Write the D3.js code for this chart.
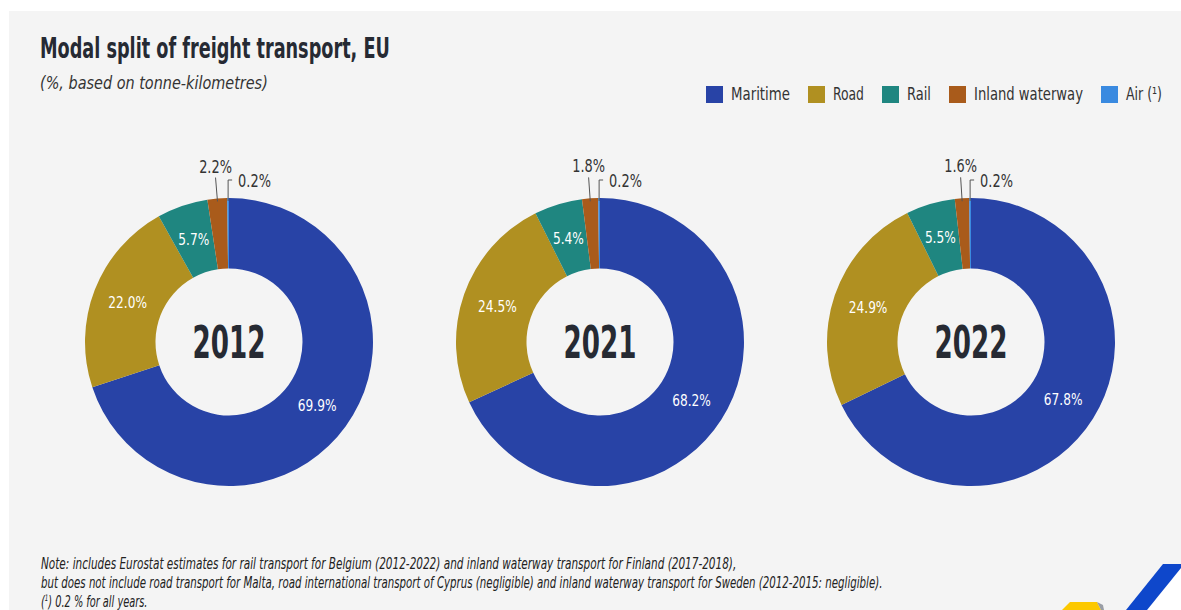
<!DOCTYPE html>
<html lang="en">
<head>
<meta charset="UTF-8">
<title>Modal split of freight transport, EU</title>
<script src="https://d3js.org/d3.v7.min.js"></script>
<style>
  body { margin: 0; background: #ffffff; }
  svg { display: block; }
  text { font-family: "Liberation Sans Narrow", "DejaVu Sans Condensed", "Roboto", sans-serif; }
</style>
</head>
<body>
<div id="chart"></div>
<script>
// data
const years = ["2012", "2021", "2022"];
const modes = ["Maritime", "Road", "Rail", "Inland waterway", "Air"];
const legendLabels = ["Maritime", "Road", "Rail", "Inland waterway", "Air (¹)"];
const share2012 = [69.9, 22.0, 5.7, 2.2, 0.2];
const share2021 = [68.2, 24.5, 5.4, 1.8, 0.2];
const share2022 = [67.8, 24.9, 5.5, 1.6, 0.2];
const shares = [share2012, share2021, share2022];
const modeColours = ["#2843a6", "#b09021", "#1f8680", "#a95b1b", "#3a8ae0"];
const noteLines = [
  "Note: includes Eurostat estimates for rail transport for Belgium (2012-2022) and inland waterway transport for Finland (2017-2018),",
  "but does not include road transport for Malta, road international transport of Cyprus (negligible) and inland waterway transport for Sweden (2012-2015: negligible)."
];

const W = 1181, H = 610;
const cy = 342, rIn = 73.5, rOut = 144;
const dark = "#262a33";

const svg = d3.select("#chart").append("svg")
  .attr("width", W).attr("height", H);

// put a text at x,y and squeeze it horizontally, either to width w or by factor k
function place(sel, x, y, opt) {
  sel.each(function () {
    const n = this.getComputedTextLength();
    const k = opt.w ? opt.w / n : opt.k;
    d3.select(this).attr("x", 0).attr("y", 0)
      .attr("transform", `translate(${x},${y}) scale(${k},1)`);
  });
  return sel;
}

svg.append("rect").attr("x", 9).attr("y", 11)
  .attr("width", W - 9).attr("height", H - 11).attr("fill", "#f4f4f4");

// title
place(svg.append("text")
  .attr("font-size", 28).attr("font-weight", "bold").attr("fill", dark)
  .text("Modal split of freight transport, EU"), 40, 58, { w: 350 });

place(svg.append("text")
  .attr("font-size", 17).attr("font-style", "italic").attr("fill", "#333")
  .text("(%, based on tonne-kilometres)"), 40, 89, { w: 228 });

// legend
const colour = d3.scaleOrdinal(modes, modeColours);
const legendWidths = [59, 31, 24, 109, 36];
let lx = 706;
legendLabels.forEach((lab, i) => {
  const g = svg.append("g").attr("transform", `translate(${lx},86)`);
  g.append("rect").attr("width", 17).attr("height", 17).attr("fill", colour(modes[i]));
  place(g.append("text").attr("dy", "0.35em")
    .attr("font-size", 17).attr("fill", "#333").text(lab), 25, 8.5, { w: legendWidths[i] });
  lx += 25 + legendWidths[i] + 18;
});

// donuts
const xPos = d3.scalePoint().domain(years).range([229, 971]);
const pie = d3.pie().sort(null).value(d => d.value);
const arc = d3.arc().innerRadius(rIn).outerRadius(rOut);
const fmt = d3.format(".1f");

years.forEach((yr, yi) => {
  const rows = modes.map((m, i) => ({ mode: m, value: shares[yi][i] }));
  const arcs = pie(rows);
  const g = svg.append("g").attr("transform", `translate(${xPos(yr)},${cy})`);

  g.selectAll("path").data(arcs).join("path")
    .attr("d", arc).attr("fill", d => colour(d.data.mode));

  arcs.slice(0, 3).forEach(d => {
    const [cx, cyy] = arc.centroid(d);
    place(g.append("text").attr("text-anchor", "middle").attr("dy", "0.35em")
      .attr("font-size", 16.5).attr("fill", "#fff")
      .text(fmt(d.data.value) + "%"), cx, cyy, { k: 0.82 });
  });

  // inland waterway: radial leader line
  const iw = arcs[3];
  const a = (iw.startAngle + iw.endAngle) / 2;
  const p = r => [r * Math.sin(a), -r * Math.cos(a)];
  const [x0, y0] = p(rOut - 3), [x1, y1] = p(rOut + 21);
  g.append("line").attr("x1", x0).attr("y1", y0).attr("x2", x1).attr("y2", y1)
    .attr("stroke", "#555").attr("stroke-width", 1);
  place(g.append("text").attr("text-anchor", "middle")
    .attr("font-size", 17.5).attr("fill", "#333")
    .text(fmt(iw.data.value) + "%"), x1, y1 - 5, { k: 0.82 });

  // air: elbow leader line
  const ai = arcs[4];
  const b = (ai.startAngle + ai.endAngle) / 2;
  const ax = (rOut - 3) * Math.sin(b), ay = -(rOut - 3) * Math.cos(b);
  const topY = -rOut - 18;
  g.append("path")
    .attr("d", `M${ax},${ay}L${ax},${topY}L${ax + 4},${topY}`)
    .attr("fill", "none").attr("stroke", "#555").attr("stroke-width", 1);
  place(g.append("text").attr("dy", "0.35em")
    .attr("font-size", 17.5).attr("fill", "#333")
    .text(fmt(ai.data.value) + "%"), ax + 10, topY + 1, { k: 0.82 });

  place(g.append("text").attr("text-anchor", "middle").attr("dy", "0.35em")
    .attr("font-size", 45).attr("font-weight", "bold").attr("fill", dark)
    .text(yr), 0, 0, { w: 73 });
});

// notes
const noteW = [696, 842];
noteLines.forEach((t, i) => {
  place(svg.append("text")
    .attr("font-size", 16).attr("font-style", "italic").attr("fill", "#222")
    .text(t), 41, 569 + i * 19, { w: noteW[i] });
});
const n3 = svg.append("text")
  .attr("font-size", 16).attr("font-style", "italic").attr("fill", "#222");
n3.append("tspan").text("(");
n3.append("tspan").attr("font-size", 9).attr("dy", -6).text("1");
n3.append("tspan").attr("dy", 6).text(") 0.2 % for all years.");
place(n3, 41, 607, { k: 0.68 });

// logo corner
svg.append("polygon").attr("points", "1181,568 1181,610 1147,610").attr("fill", "#ffffff");
svg.append("polygon").attr("points", "1163,564 1181,564 1181,568 1147,610 1126,610").attr("fill", "#0e47cb");
svg.append("polygon").attr("points", "1070,602 1097,602 1101,610 1062,610").attr("fill", "#fcc800");
svg.append("polygon").attr("points", "1097,602 1103,605 1104,610 1101,610").attr("fill", "#9a9ea6");
</script>
</body>
</html>
